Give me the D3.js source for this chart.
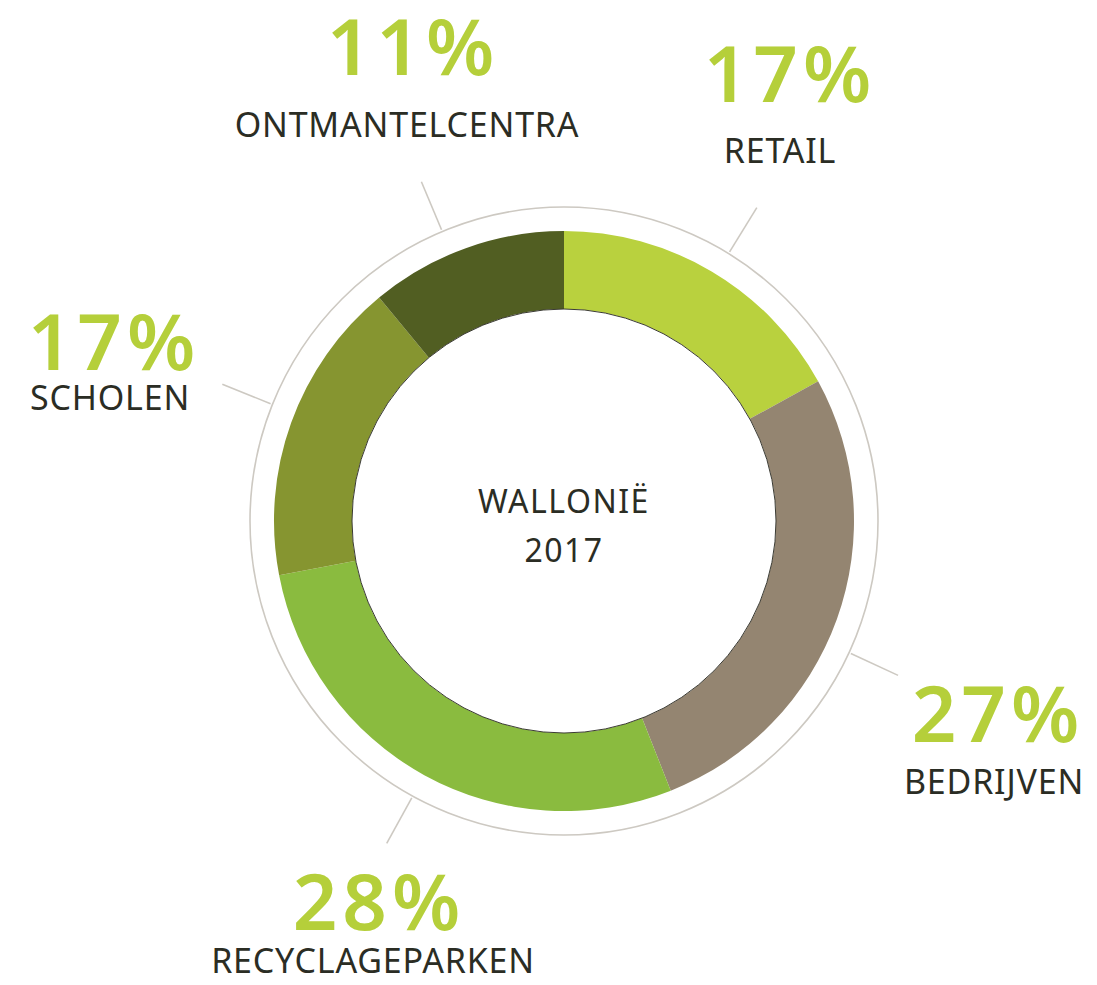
<!DOCTYPE html>
<html>
<head>
<meta charset="utf-8">
<script src="https://cdn.jsdelivr.net/npm/d3@7"></script>
<style>
  body { margin: 0; background: #fff; }
  svg { display: block; }
</style>
</head>
<body>
<figure id="donut" style="margin:0"></figure>
<script>
// data
const categories = ["RETAIL", "BEDRIJVEN", "RECYCLAGEPARKEN", "SCHOLEN", "ONTMANTELCENTRA"];
const values = [17, 27, 28, 17, 11];
const centerTitle = ["WALLONIË", "2017"];

// styles
const colors = ["#b9d13e", "#948571", "#8abb3f", "#869530", "#515e22"];
const pctColor = "#b5cf3a";
const textColor = "#2b2d24";
const ringColor = "#cdc9c2";

// layout: label centres (pct / name) and leader-line angle nudges
const labelPos = [
  { px: 790, pctY: 102, nx: 780, nameY: 163, nudge: 1 },
  { px: 998, pctY: 742, nx: 994, nameY: 794, nudge: 5 },
  { px: 379, pctY: 930, nx: 373, nameY: 973, nudge: 0 },
  { px: 114, pctY: 370, nx: 110, nameY: 410, nudge: 2 },
  { px: 413, pctY: 75, nx: 407, nameY: 137, nudge: -3 }
];

const width = 1097, height = 985;
const cx = 564, cy = 521;
const rOuter = 290, rInner = 212, rRing = 314;
const rLine0 = 316, rLine1 = 368;

const svg = d3.select("#donut")
  .append("svg")
  .attr("width", width)
  .attr("height", height);

const g = svg.append("g")
  .attr("transform", "translate(" + cx + "," + cy + ")");

const data = categories.map((c, i) => ({ name: c, value: values[i], color: colors[i], pos: labelPos[i] }));

const pie = d3.pie()
  .value(d => d.value)
  .sort(null);

const arc = d3.arc()
  .innerRadius(rInner)
  .outerRadius(rOuter);

const arcs = pie(data);

// thin outer ring
g.append("circle")
  .attr("r", rRing)
  .attr("fill", "none")
  .attr("stroke", ringColor)
  .attr("stroke-width", 1.6);

// slices
g.selectAll("path.slice")
  .data(arcs)
  .enter()
  .append("path")
  .attr("class", "slice")
  .attr("d", arc)
  .attr("fill", d => d.data.color);

// dark edge round the hole
g.append("circle")
  .attr("r", rInner)
  .attr("fill", "#fff")
  .attr("stroke", "#3a3a32")
  .attr("stroke-width", 1);

// leader lines
g.selectAll("line.leader")
  .data(arcs)
  .enter()
  .append("line")
  .attr("class", "leader")
  .each(function(d) {
    const a = (d.startAngle + d.endAngle) / 2 + d.data.pos.nudge * Math.PI / 180;
    d3.select(this)
      .attr("x1", rLine0 * Math.sin(a))
      .attr("y1", -rLine0 * Math.cos(a))
      .attr("x2", rLine1 * Math.sin(a))
      .attr("y2", -rLine1 * Math.cos(a));
  })
  .attr("stroke", ringColor)
  .attr("stroke-width", 1.6);

// labels
const labels = svg.selectAll("g.label")
  .data(arcs)
  .enter()
  .append("g")
  .attr("class", "label");

labels.append("text")
  .attr("x", d => d.data.pos.px)
  .attr("y", d => d.data.pos.pctY)
  .attr("text-anchor", "middle")
  .style("font", "600 78px 'Noto Sans'")
  .style("letter-spacing", "5px")
  .attr("fill", pctColor)
  .text(d => d.data.value + "%");

labels.append("text")
  .attr("x", d => d.data.pos.nx)
  .attr("y", d => d.data.pos.nameY)
  .attr("text-anchor", "middle")
  .style("font", "400 34px 'Noto Sans'")
  .style("letter-spacing", "0.8px")
  .attr("fill", textColor)
  .text(d => d.data.name);

// centre title
g.selectAll("text.title")
  .data(centerTitle)
  .enter()
  .append("text")
  .attr("class", "title")
  .attr("x", 0)
  .attr("y", (d, i) => -8 + i * 49)
  .attr("text-anchor", "middle")
  .style("font", "400 32px 'Noto Sans'")
  .style("letter-spacing", "1.5px")
  .attr("fill", textColor)
  .text(d => d);
</script>
</body>
</html>
